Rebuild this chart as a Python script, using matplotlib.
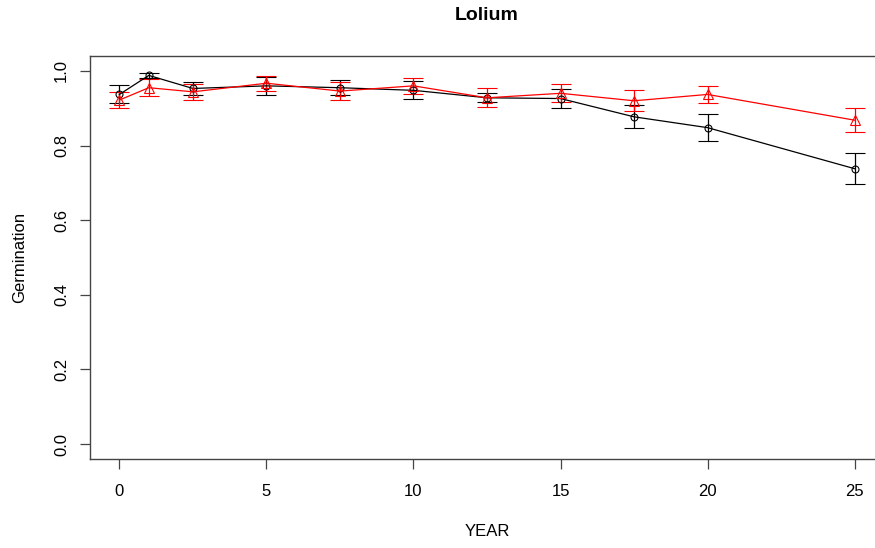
import matplotlib
matplotlib.use("Agg")
import matplotlib.pyplot as plt

plt.rcParams['font.family'] = ['Liberation Sans', 'DejaVu Sans']

years = [0, 1, 2.5, 5, 7.5, 10, 12.5, 15, 17.5, 20, 25]
black_mean = [0.937, 0.988, 0.953, 0.960, 0.955, 0.948, 0.928, 0.926, 0.877, 0.848, 0.738]
black_err = [0.024, 0.007, 0.017, 0.025, 0.020, 0.024, 0.012, 0.025, 0.031, 0.036, 0.042]
red_mean = [0.922, 0.955, 0.944, 0.967, 0.946, 0.960, 0.928, 0.940, 0.920, 0.937, 0.868]
red_err = [0.021, 0.023, 0.021, 0.020, 0.023, 0.022, 0.025, 0.024, 0.028, 0.023, 0.033]

xticks = [0, 5, 10, 15, 20, 25]
yticks = [0.0, 0.2, 0.4, 0.6, 0.8, 1.0]

fig = plt.figure(figsize=(8.75, 5.48), dpi=100)
ax = fig.add_axes([90/875, 1-459/548, (884-90)/875, (459-56)/548])

ax.errorbar(years, black_mean, yerr=black_err, color='black', ecolor='black',
            elinewidth=0.9, capsize=7, capthick=0.9, lw=0.9,
            marker='o', markersize=5, markerfacecolor='none', markeredgecolor='black',
            markeredgewidth=0.8)
ax.errorbar(years, red_mean, yerr=red_err, color='red', ecolor='red',
            elinewidth=0.9, capsize=7, capthick=0.9, lw=0.9,
            marker='^', markersize=7, markerfacecolor='none', markeredgecolor='red',
            markeredgewidth=0.8)

ax.set_xlim(-1, 26)
ax.set_ylim(-0.04, 1.04)
ax.set_xticks(xticks)
ax.set_xticklabels([str(t) for t in xticks])
ax.set_yticks(yticks)
ax.set_yticklabels([f"{t:.1f}" for t in yticks], rotation=90, va='center')
ax.tick_params(direction='out', length=7, width=0.9, labelsize=12, color='#444444')
ax.tick_params(axis='x', pad=11)
ax.tick_params(axis='y', pad=8)
for s in ax.spines.values():
    s.set_color('#444444')
    s.set_linewidth(1.0)

ax.set_xlabel('YEAR', fontsize=12)
ax.xaxis.label.set_va('center')
ax.xaxis.set_label_coords(0.5, (459-532)/403)
ax.set_ylabel('Germination', fontsize=12)
ax.yaxis.label.set_va('center')
ax.yaxis.set_label_coords((20-90)/794, 0.5)
fig.text(487/875, 1-15/548, 'Lolium', ha='center', va='center', fontsize=14, fontweight='bold')

fig.savefig('out.png', dpi=100)
